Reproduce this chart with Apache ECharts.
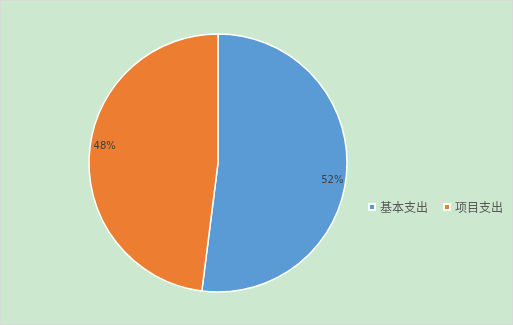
<!DOCTYPE html>
<html><head><meta charset="utf-8">
<script src="https://cdn.jsdelivr.net/npm/echarts@6/dist/echarts.min.js"></script>
<style>
html,body{margin:0;padding:0;background:#fff;}
#c{width:513px;height:325px;box-sizing:border-box;border:1px solid #d9d9d9;background:#cce8cf;}
</style></head>
<body><div id="c"></div>
<script>
const categories = ['基本支出', '项目支出'];
const values = [52, 48];
const colors = ['#5b9bd5', '#ed7d31'];
const labelOffsets = [[47, 13], [-46, -12]];

const chart = echarts.init(document.getElementById('c'), null, {renderer: 'canvas'});
chart.setOption({
  backgroundColor: 'transparent',
  animation: false,
  color: colors,
  legend: {
    orient: 'horizontal',
    left: 362, top: 195, width: 220, padding: 5,
    icon: 'rect', itemWidth: 6, itemHeight: 6, itemGap: 15,
    textStyle: {fontFamily: 'Noto Sans CJK SC', fontSize: 12, color: '#595959'},
    data: categories
  },
  series: [{
    type: 'pie',
    center: [217, 162],
    radius: 129,
    startAngle: 90,
    clockwise: true,
    avoidLabelOverlap: false,
    itemStyle: {borderColor: '#ffffff', borderWidth: 1.5},
    label: {
      show: true, position: 'inside',
      formatter: p => p.value + '%',
      fontFamily: 'DejaVu Sans, Noto Sans', fontSize: 10, color: '#404040'
    },
    labelLine: {show: false},
    emphasis: {disabled: true},
    data: categories.map((n, i) => ({name: n, value: values[i], label: {offset: labelOffsets[i]}}))
  }]
});
</script></body></html>
